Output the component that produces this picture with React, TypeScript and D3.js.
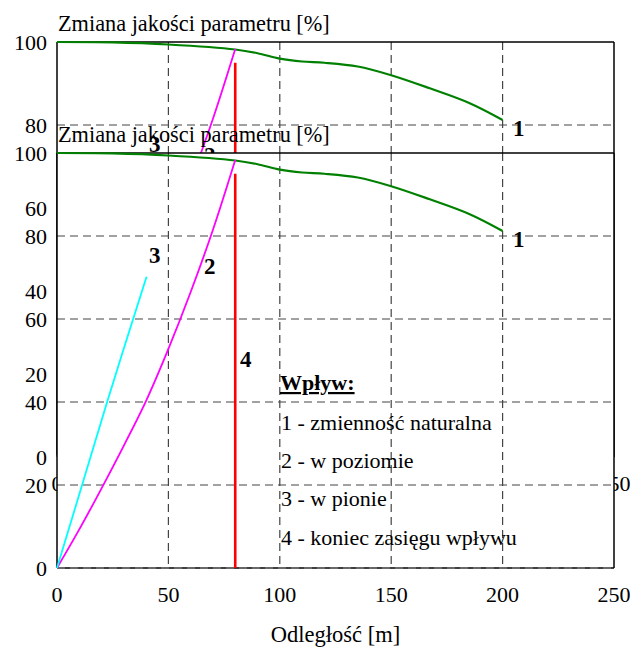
import React from "react";
import * as d3 from "d3";

const xTicks = [0, 50, 100, 150, 200, 250];
const yTicks = [0, 20, 40, 60, 80, 100];

const naturalX = [0, 25, 50, 80, 90, 100, 110, 120, 135, 150, 167, 185, 200];
const naturalY = [100, 99.9, 99.4, 98.2, 97.3, 96.0, 95.3, 95.0, 94.1, 92, 88.9, 85.3, 81.2];

const horizX = [0, 10, 20, 30, 40, 50, 60, 70, 80];
const horizY = [0, 9.3, 19.2, 29.5, 40.3, 52.8, 66.5, 81.5, 98.3];

const vertX = [0, 11.5, 22.6, 40.2];
const vertY = [0, 20.4, 40.2, 70.2];

const rangeX = 80;
const rangeY = [0, 95];

const curveLabels = [
  { text: "1", x: 204.7, y: 77.3 },
  { text: "2", x: 66, y: 70.8 },
  { text: "3", x: 41.3, y: 73.5 },
  { text: "4", x: 82.1, y: 48.4 },
];

const legendTitle = "Wpływ:";
const legendItems = [
  "1 - zmienność naturalna",
  "2 - w poziomie",
  "3 - w pionie",
  "4 - koniec zasięgu wpływu",
];

const titleText = "Zmiana jakości parametru [%]";
const xTitle = "Odległość [m]";

const layerOffsets = [0, 111];

const W = 634;
const H = 650;
const left = 57;
const right = 614;
const top = 42;
const bottom = 457;
const FONT = "'Liberation Serif', 'Times New Roman', serif";

const x = d3.scaleLinear().domain([0, 250]).range([left, right]);
const y = d3.scaleLinear().domain([0, 100]).range([bottom, top]);

const zip = (xs: number[], ys: number[]) => xs.map((v, i) => [v, ys[i]] as [number, number]);

const lineGen = d3
  .line<[number, number]>()
  .x((d) => x(d[0]))
  .y((d) => y(d[1]))
  .curve(d3.curveCatmullRom.alpha(0.5));

function Layer({ dy }: { dy: number }) {
  return (
    <g transform={`translate(0,${dy})`}>
      <rect x={left} y={top} width={right - left} height={bottom - top} fill="#fff" />
      {yTicks.slice(1, -1).map((t) => (
        <line key={"gy" + t} x1={left} x2={right} y1={y(t)} y2={y(t)} stroke="#444" strokeWidth={1.2} strokeDasharray="8,5" />
      ))}
      {xTicks.slice(1, -1).map((t) => (
        <line key={"gx" + t} x1={x(t)} x2={x(t)} y1={top} y2={bottom} stroke="#444" strokeWidth={1.2} strokeDasharray="8,5" />
      ))}
      <line x1={left} x2={right} y1={top} y2={top} stroke="#000" strokeWidth={1.5} />
      <line x1={right} x2={right} y1={top} y2={bottom} stroke="#000" strokeWidth={1.5} />
      <line x1={left} x2={left} y1={top} y2={bottom} stroke="#000" strokeWidth={1.5} />
      <line x1={left} x2={right} y1={bottom} y2={bottom} stroke="#000" strokeWidth={1.5} />
      <line x1={left} x2={right} y1={bottom} y2={bottom} stroke="#777" strokeWidth={1.5} strokeDasharray="8,5" />
      <path d={lineGen(zip(naturalX, naturalY)) || ""} fill="none" stroke="#008000" strokeWidth={2.2} />
      <path d={lineGen(zip(horizX, horizY)) || ""} fill="none" stroke="#ff00ff" strokeWidth={1.8} />
      <path d={lineGen(zip(vertX, vertY)) || ""} fill="none" stroke="#00ffff" strokeWidth={1.8} />
      <line x1={x(rangeX)} x2={x(rangeX)} y1={y(rangeY[0])} y2={y(rangeY[1])} stroke="#ff0000" strokeWidth={2.6} />
      {curveLabels.map((l) => (
        <text key={"cl" + l.text} x={x(l.x)} y={y(l.y)} fontFamily={FONT} fontSize={23} fontWeight="bold" fill="#000">
          {l.text}
        </text>
      ))}
      <text x={280} y={279} fontFamily={FONT} fontSize={22} fontWeight="bold" textDecoration="underline" fill="#000">
        {legendTitle}
      </text>
      {legendItems.map((s, i) => (
        <text key={"lg" + i} x={281} y={319 + i * 38.2} fontFamily={FONT} fontSize={22} fill="#000">
          {s}
        </text>
      ))}
      {yTicks.map((t) => (
        <text key={"yt" + t} x={47} y={y(t) + 7.5} textAnchor="end" fontFamily={FONT} fontSize={22} fill="#000">
          {t}
        </text>
      ))}
      {xTicks.map((t) => (
        <text key={"xt" + t} x={x(t)} y={bottom + 34} textAnchor="middle" fontFamily={FONT} fontSize={22} fill="#000">
          {t}
        </text>
      ))}
      <text x={(left + right) / 2} y={bottom + 74} textAnchor="middle" fontFamily={FONT} fontSize={22.5} fill="#000">
        {xTitle}
      </text>
      <text x={58} y={30.5} fontFamily={FONT} fontSize={22.3} fill="#000">
        {titleText}
      </text>
    </g>
  );
}

export default function App() {
  return (
    <svg width={W} height={H} style={{ position: "absolute", left: 0, top: 0, background: "#fff" }}>
      {layerOffsets.map((dy) => (
        <Layer key={dy} dy={dy} />
      ))}
    </svg>
  );
}
